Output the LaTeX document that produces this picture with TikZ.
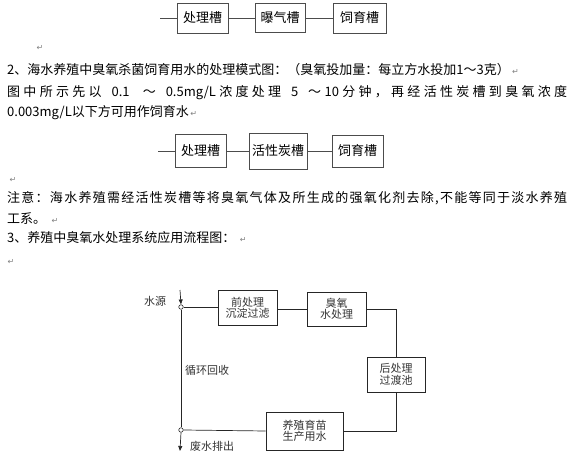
\documentclass[tikz,border=0pt]{standalone}
\usepackage{fontspec}
\setmainfont{Noto Sans CJK SC}
\newfontfamily\symf{DejaVu Sans}
\usetikzlibrary{arrows.meta, positioning}

\makeatletter
\newcommand\spreadto[2]{\hbox to #1{\@tfor\nextch:=#2\do{\nextch\hfil}\unskip}}
\makeatother
\newcommand\gap[1][1]{\hspace{0pt plus #1fil}}

\tikzset{
  txt/.style={anchor=base west, inner sep=0pt, font=\fontsize{13}{15}\selectfont},
  ret/.style={inner sep=0pt, text=gray, font=\symf\fontsize{8}{9}\selectfont},
  tank/.style={draw=black!70, line width=0.9pt, inner sep=0pt, font=\fontsize{13}{15}\selectfont},
  flowbox/.style={draw=black!85, line width=0.7pt, inner sep=0pt, align=center, text=black!80, font=\fontsize{11}{11.5}\selectfont},
  flowlbl/.style={inner sep=0pt, text=black!80, font=\fontsize{11}{12}\selectfont},
  pipe/.style={draw=black!85, line width=0.7pt},
  valve/.style={circle, draw=black!85, line width=0.6pt, minimum size=4.5pt, inner sep=0pt}
}

\begin{document}
\begin{tikzpicture}[x=1pt, y=-1pt]
    \useasboundingbox (0,0) rectangle (574,460);
    %\draw[step=50, help lines] (0,0) grid (574,460);

    % first chain
    \coordinate (in1) at (160,18);
    \node[tank, minimum width=51pt, minimum height=30pt] (b1) at (202.5,18) {处理槽};
    \node[tank, minimum width=50pt, minimum height=29pt] (b2) at (280,18) {曝气槽};
    \node[tank, minimum width=53pt, minimum height=30pt] (b3) at (359.5,18) {饲育槽};
    \draw[draw=black!70, line width=0.9pt] (in1) -- (b1.west);
    \draw[draw=black!70, line width=0.9pt] (b1.east) -- (b2.west);
    \draw[draw=black!70, line width=0.9pt] (b2.east) -- (b3.west);

    \node[ret] (r1) at (40,48) {↵};
    \node[txt] (l1) at (7,75) {2、海水养殖中臭氧杀菌饲育用水的处理模式图：（臭氧投加量：每立方水投加1～3克）};
    \node[ret, right=2pt of l1.base east, anchor=base west] (r2) {↵};
    \node[txt] (l2) at (7,97) {\spreadto{560pt}{图中所示先以{\gap}{0.1}{\gap[2]}～{\gap}{0.5mg/L}浓度处理{\gap}5{\gap}～{10}分钟，再经活性炭槽到臭氧浓度}};
    \node[txt] (l3) at (7,117) {0.003mg/L以下方可用作饲育水};
    \node[ret, right=1pt of l3.base east, anchor=base west] (r3) {↵};

    % second chain
    \coordinate (in2) at (158,151);
    \node[tank, minimum width=51pt, minimum height=33pt] (c1) at (200.5,151) {处理槽};
    \node[tank, minimum width=58pt, minimum height=36pt] (c2) at (278,151) {活性炭槽};
    \node[tank, minimum width=51pt, minimum height=32pt] (c3) at (357.5,151) {饲育槽};
    \draw[draw=black!70, line width=0.9pt] (in2) -- (c1.west);
    \draw[draw=black!70, line width=0.9pt] (c1.east) -- (c2.west);
    \draw[draw=black!70, line width=0.9pt] (c2.east) -- (c3.west);

    \node[ret] (r4) at (13,180) {↵};
    \node[txt] (n1) at (7,203) {\spreadto{560pt}{注意：海水养殖需经活性炭槽等将臭氧气体及所生成的强氧化剂去除,不能等同于淡水养殖}};
    \node[txt] (n2) at (7,223) {工系。};
    \node[ret, right=5pt of n2.base east, anchor=base west] (r5) {↵};
    \node[txt] (n3) at (7,243) {3、养殖中臭氧水处理系统应用流程图：};
    \node[ret, right=4pt of n3.base east, anchor=base west] (r6) {↵};
    \node[ret] (r7) at (11,262) {↵};

    % flow chart
    \coordinate (src) at (180,290);
    \coordinate (drain) at (180,451);
    \node[valve] (v1) at (181,307) {};
    \node[valve] (v2) at (181,430) {};
    \node[flowbox, minimum width=59pt, minimum height=35pt] (p1) at (247.5,308) {前处理\\沉淀过滤};
    \node[flowbox, minimum width=59pt, minimum height=34pt] (p2) at (336.5,309) {臭氧\\水处理};
    \node[flowbox, minimum width=58pt, minimum height=35pt] (p3) at (396,374.5) {后处理\\过渡池};
    \node[flowbox, minimum width=77pt, minimum height=38pt] (p4) at (304.5,431) {养殖育苗\\生产用水};

    \node[flowlbl] (lsrc) at (155,301) {水源};
    \node[flowlbl] (lcyc) at (207,370) {循环回收};
    \node[flowlbl] (lout) at (212,446) {废水排出};

    \draw[pipe, -{Triangle[length=5pt, width=4pt]}] (src) -- (v1.north);
    \draw[pipe] (v1.east) -- (p1.west |- v1.east);
    \draw[pipe] (p1.east |- p2.west) -- (p2.west);
    \draw[pipe] (p2.east) -| (p3.north);
    \draw[pipe] (p3.south) |- (p4.east);
    \draw[pipe] (p4.west) -- (v2.east);
    \draw[pipe] (v1.south) -- (v2.north);
    \draw[pipe, -{Triangle[length=5pt, width=4pt]}] (v2.south) -- (drain);
\end{tikzpicture}
\end{document}
